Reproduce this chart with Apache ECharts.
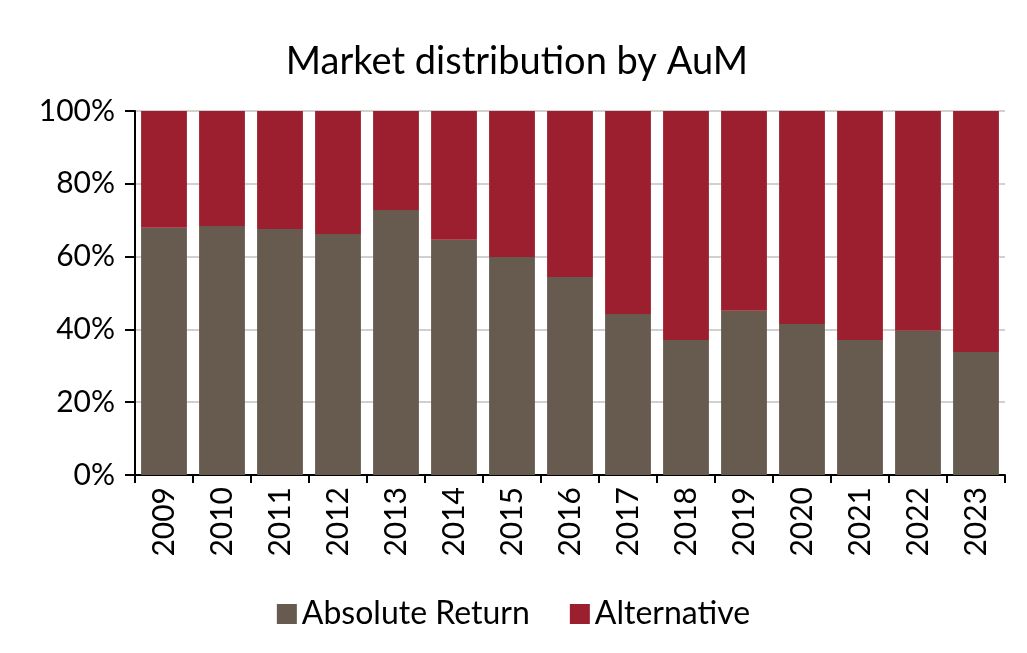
<!DOCTYPE html>
<html>
<head>
<meta charset="utf-8">
<script src="https://cdn.jsdelivr.net/npm/echarts@6/dist/echarts.min.js"></script>
<style>html,body{margin:0;padding:0;background:#fff}#container{width:1027px;height:653px}</style>
</head>
<body>
<div id="container"></div>
<script>
var years = ['2009','2010','2011','2012','2013','2014','2015','2016','2017','2018','2019','2020','2021','2022','2023'];
var absoluteReturn = [67.9, 68.4, 67.6, 66.2, 72.8, 64.6, 59.9, 54.4, 44.2, 37.1, 45.1, 41.5, 37.1, 39.6, 33.8];
var alternative = absoluteReturn.map(function(v){ return +(100 - v).toFixed(1); });

var myChart = echarts.init(document.getElementById('container'));
var font = 'Lato';
var option = {
    animation: false,
    title: {
        text: 'Market distribution by AuM',
        left: 512, top: 38, textAlign: 'center',
        textStyle: {fontFamily: font, fontWeight: 'normal', fontSize: 38, color: '#000'}
    },
    legend: {
        bottom: 18, left: 'center', itemWidth: 20, itemHeight: 20, itemGap: 40,
        icon: 'rect',
        textStyle: {fontFamily: font, fontSize: 32, color: '#000'},
        data: ['Absolute Return', 'Alternative']
    },
    grid: {left: 135, right: 22, top: 111, bottom: 178},
    xAxis: {
        type: 'category', data: years,
        axisLine: {lineStyle: {color: '#000', width: 2}},
        axisTick: {show: true, length: 8, lineStyle: {color: '#000', width: 2}},
        axisLabel: {rotate: 90, fontFamily: font, fontSize: 30, color: '#000', margin: 12}
    },
    yAxis: {
        type: 'value', min: 0, max: 100, interval: 20,
        axisLine: {show: true, lineStyle: {color: '#000', width: 2}},
        axisTick: {show: true, inside: false, length: 10, lineStyle: {color: '#000', width: 2}},
        axisLabel: {formatter: '{value}%', fontFamily: font, fontSize: 30, color: '#000', margin: 20},
        splitLine: {lineStyle: {color: '#d0d0d0', width: 2}}
    },
    series: [
        {name: 'Absolute Return', type: 'bar', stack: 'a', barCategoryGap: '21%',
         itemStyle: {color: '#675a4e'}, data: absoluteReturn},
        {name: 'Alternative', type: 'bar', stack: 'a', barCategoryGap: '21%',
         itemStyle: {color: '#9b1f2e'}, data: alternative}
    ]
};
myChart.setOption(option);
</script>
</body>
</html>
